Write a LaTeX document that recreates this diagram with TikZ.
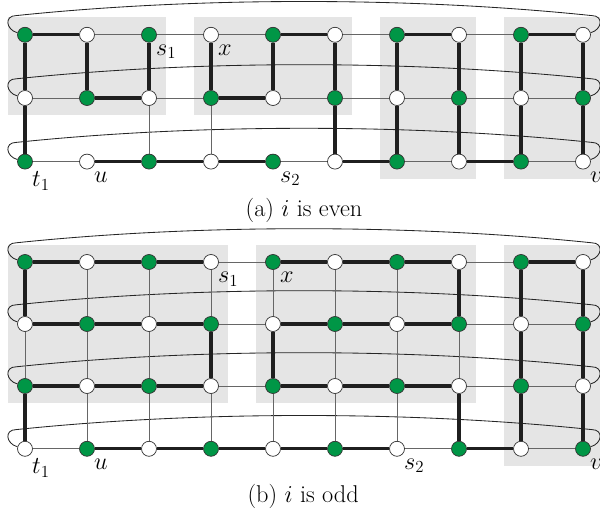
\documentclass[tikz,border=0pt]{standalone}
\usepackage{tikz}
\usetikzlibrary{positioning,calc,fit,backgrounds}
\definecolor{vgreen}{RGB}{0,150,70}

\begin{document}
\begin{tikzpicture}[
  font=\LARGE,
  vtx/.style={circle, draw=black!80, line width=0.5pt, minimum size=0.375cm, inner sep=0pt},
  gvtx/.style={vtx, fill=vgreen},
  wvtx/.style={vtx, fill=white},
  edge/.style={draw=black!60, line width=0.7pt},
  tour/.style={draw=black!88, line width=2.4pt},
  wrap/.style={draw=black!85, line width=0.6pt},
  block/.style={fill=black!10, inner sep=0.24cm},
  lbl/.style={font=\LARGE, inner sep=1pt, anchor=north west, yshift=-2pt},
]

\useasboundingbox (0,0) rectangle (15,12.9);

\def\dx{1.55}

% grid (a): 3 rows
\foreach \r/\y in {0/12.03,1/10.45,2/8.86}
  \foreach \c in {0,...,9} {
    \pgfmathtruncatemacro\odd{mod(\r+\c,2)}
    \ifnum\odd=0
      \node[gvtx] (a\r\c) at (0.625+\dx*\c,\y) {};
    \else
      \node[wvtx] (a\r\c) at (0.625+\dx*\c,\y) {};
    \fi
  }

% grid (b): 4 rows
\foreach \r/\y in {0/6.35,1/4.8,2/3.25,3/1.68}
  \foreach \c in {0,...,9} {
    \pgfmathtruncatemacro\odd{mod(\r+\c,2)}
    \ifnum\odd=0
      \node[gvtx] (b\r\c) at (0.625+\dx*\c,\y) {};
    \else
      \node[wvtx] (b\r\c) at (0.625+\dx*\c,\y) {};
    \fi
  }

\begin{scope}[on background layer]
  % blocks
  \node[block, fit=(a00)(a12)] (ablk1) {};
  \node[block, fit=(a03)(a15)] (ablk2) {};
  \node[block, fit=(a06)(a27)] (ablk3) {};
  \node[block, fit=(a08)(a29)] (ablk4) {};
  \node[block, fit=(b00)(b23)] (bblk1) {};
  \node[block, fit=(b04)(b27)] (bblk2) {};
  \node[block, fit=(b08)(b39)] (bblk3) {};

  % wrap-around edges
  \foreach \g/\rows in {a/{0,1,2}, b/{0,1,2,3}}
    \foreach \r in \rows
      \draw[wrap] (\g\r0) to[out=165,in=180,looseness=1.8] ($(\g\r0)+(-0.22,0.48)$)
        .. controls ($(\g\r0)+(4.3,0.95)$) and ($(\g\r9)+(-4.3,0.95)$) .. ($(\g\r9)+(0.22,0.48)$)
        to[out=0,in=15,looseness=1.8] (\g\r9);

  % thin grid edges
  \foreach \r in {0,1,2}
    \foreach \c in {0,...,8} {
      \pgfmathtruncatemacro\nxt{\c+1}
      \draw[edge] (a\r\c) -- (a\r\nxt);
    }
  \foreach \c in {0,...,9} \draw[edge] (a0\c) -- (a1\c);
  \foreach \c in {0,2,3,5,6,7,8,9} \draw[edge] (a1\c) -- (a2\c);
  \foreach \r in {0,1,2,3}
    \foreach \c in {0,...,8} {
      \pgfmathtruncatemacro\nxt{\c+1}
      \draw[edge] (b\r\c) -- (b\r\nxt);
    }
  \foreach \r in {0,1,2}
    \foreach \c in {0,...,9} {
      \pgfmathtruncatemacro\dwn{\r+1}
      \draw[edge] (b\r\c) -- (b\dwn\c);
    }

  % thick paths (a)
  \foreach \p/\q in {a00/a01, a04/a05, a06/a07, a08/a09,
                     a11/a12, a13/a14,
                     a21/a22, a22/a23, a23/a24, a25/a26, a27/a28,
                     a10/a20, a15/a25, a16/a26, a17/a27, a18/a28, a19/a29}
    \draw[tour] (\p) -- (\q);
  \foreach \c in {0,...,9} \draw[tour] (a0\c) -- (a1\c);

  % thick paths (b)
  \foreach \p/\q in {b00/b01, b01/b02, b02/b03, b04/b05, b05/b06, b06/b07, b08/b09,
                     b10/b11, b11/b12, b12/b13, b14/b15, b15/b16, b16/b17,
                     b20/b21, b21/b22, b22/b23, b24/b25, b25/b26, b26/b27,
                     b31/b32, b32/b33, b33/b34, b34/b35, b35/b36, b37/b38,
                     b00/b10, b07/b17, b08/b18, b09/b19,
                     b13/b23, b14/b24, b18/b28, b19/b29,
                     b20/b30, b27/b37, b28/b38, b29/b39}
    \draw[tour] (\p) -- (\q);
\end{scope}

% labels (a)
\node[lbl] at (a02.south east) {$s_1$};
\node[lbl] at (a03.south east) {$x$};
\node[lbl] at (a20.south east) {$t_1$};
\node[lbl] at (a21.south east) {$u$};
\node[lbl] at (a24.south east) {$s_2$};
\node[lbl] at (a29.south east) {$v$};

% labels (b)
\node[lbl] at (b03.south east) {$s_1$};
\node[lbl] at (b04.south east) {$x$};
\node[lbl] at (b30.south east) {$t_1$};
\node[lbl] at (b31.south east) {$u$};
\node[lbl] at (b36.south east) {$s_2$};
\node[lbl] at (b39.south east) {$v$};

% captions
\node (capa) at (7.6,7.65) {(a) $i$ is even};
\node (capb) at (7.58,0.5) {(b) $i$ is odd};

\end{tikzpicture}
\end{document}
